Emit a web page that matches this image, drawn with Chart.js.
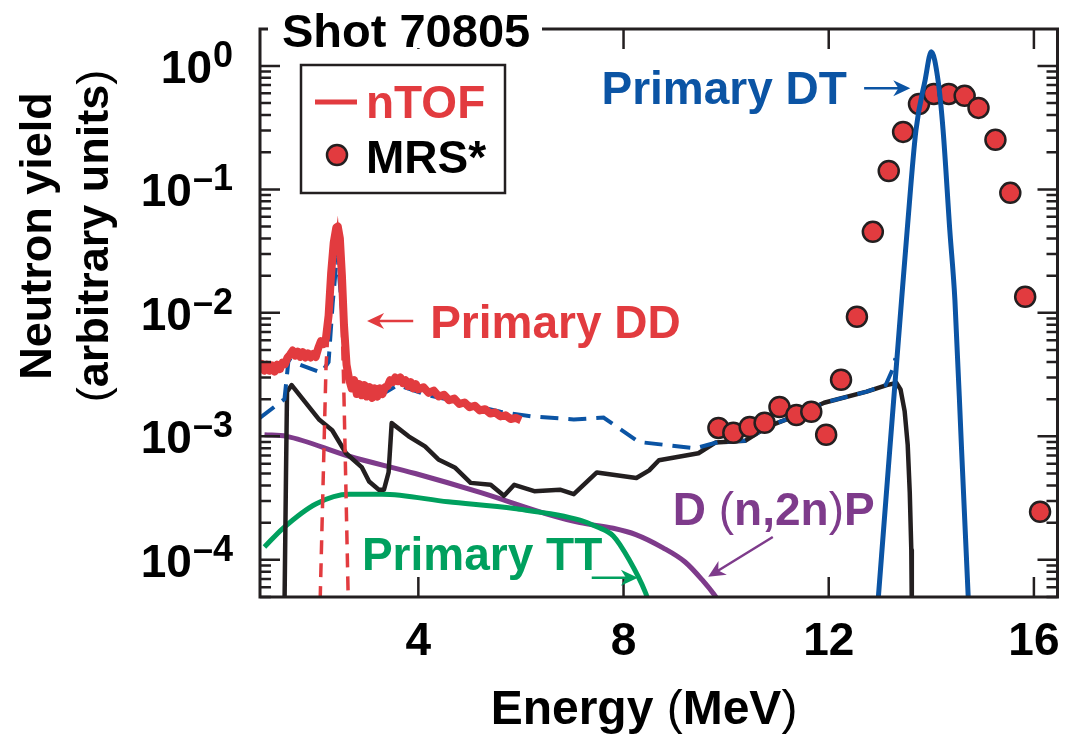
<!DOCTYPE html>
<html>
<head>
<meta charset="utf-8">
<title>Shot 70805 neutron spectrum</title>
<script src="https://cdn.jsdelivr.net/npm/chart.js@4.4.1/dist/chart.umd.min.js"></script>
<style>
  html, body { margin: 0; padding: 0; background: #fff; }
  #wrap { width: 1070px; height: 736px; }
</style>
</head>
<body>
<div id="wrap"><canvas id="spectrum" width="1070" height="736"></canvas></div>
<script>
// nTOF measurement (energy in MeV, yield in arbitrary units)
var ntofE = [0.90,0.95,1.00,1.05,1.10,1.15,1.20,1.25,1.30,1.35,
             1.40,1.45,1.50,1.55,1.60,1.65,1.70,1.75,1.80,1.85,
             1.90,1.95,2.00,2.05,2.10,2.15,2.20,2.25,2.30,2.35,2.40,
             2.43,2.47,2.51,2.55,
             2.60,2.65,2.70,2.75,2.80,2.85,2.90,2.95,3.00,3.05,
             3.10,3.15,3.20,3.25,3.30,3.35,3.40,3.45,3.50,3.55,
             3.60,3.65,3.70,3.75,3.80,3.85,3.90,3.95,4.00,
             4.10,4.20,4.30,4.40,4.50,4.60,4.70,4.80,4.90,5.00,
             5.10,5.20,5.30,5.40,5.50,5.60,5.70,5.80,5.90,6.00];
var ntofY = [3.6e-3,3.85e-3,3.4e-3,3.8e-3,3.4e-3,3.75e-3,3.35e-3,3.8e-3,3.5e-3,3.95e-3,
             3.85e-3,4.35e-3,4.6e-3,4.95e-3,4.5e-3,4.85e-3,4.4e-3,4.8e-3,4.35e-3,4.7e-3,
             4.35e-3,4.65e-3,4.4e-3,5.2e-3,5.9e-3,5.6e-3,6.3e-3,9.5e-3,0.021,0.037,0.049,
             0.050,0.040,0.020,8.0e-3,
             3.8e-3,2.9e-3,2.45e-3,2.85e-3,2.2e-3,2.65e-3,2.15e-3,2.6e-3,2.1e-3,2.5e-3,
             2.05e-3,2.45e-3,2.1e-3,2.45e-3,2.2e-3,2.5e-3,2.55e-3,2.85e-3,2.75e-3,3.0e-3,
             2.8e-3,3.0e-3,2.7e-3,2.85e-3,2.55e-3,2.75e-3,2.45e-3,2.65e-3,2.4e-3,
             2.5e-3,2.25e-3,2.35e-3,2.1e-3,2.17e-3,1.96e-3,2.02e-3,1.83e-3,1.88e-3,1.72e-3,
             1.77e-3,1.62e-3,1.66e-3,1.53e-3,1.56e-3,1.45e-3,1.48e-3,1.38e-3,1.41e-3,1.35e-3];

// primary DD peak (dashed red)
var ddE = [2.06, 2.09, 2.20, 2.30, 2.42, 2.50, 2.55, 2.63, 2.66];
var ddY = [2e-5, 5.5e-5, 3.7e-3, 0.02, 0.045, 0.015, 2.1e-3, 5.5e-5, 2e-5];

// total model (dashed blue)
var totE = [0.91, 1.39, 1.47, 1.55, 2.11, 2.25, 2.33, 2.42, 2.50, 2.60,
            2.80, 3.30, 3.60, 4.20, 4.83, 5.60, 6.20, 7.03, 7.61, 8.30,
            9.40, 9.85, 10.37, 10.81, 11.33, 11.91, 12.74, 13.11, 13.26, 13.30];
var totY = [1.41e-3, 2.0e-3, 4.2e-3, 4.0e-3, 3.27e-3, 4.0e-3, 0.012, 0.031, 0.012, 3.5e-3,
            2.4e-3, 2.2e-3, 2.6e-3, 2.15e-3, 1.88e-3, 1.58e-3, 1.45e-3, 1.37e-3, 1.42e-3, 9.0e-4,
            8.0e-4, 9.0e-4, 9.2e-4, 1.2e-3, 1.45e-3, 1.87e-3, 2.3e-3, 2.6e-3, 3.6e-3, 4.3e-3];

// scattered component (black)
var scatE = [1.39, 1.42, 1.44, 1.53, 2.07, 2.32, 2.59, 2.90, 3.04, 3.23,
             3.33, 3.42, 3.48, 3.81, 4.13, 4.39, 4.71, 5.02, 5.41, 5.67,
             5.87, 6.26, 6.76, 7.03, 7.48, 8.25, 8.50, 8.69, 9.46, 9.79,
             10.37, 10.81, 11.33, 11.91, 12.74, 13.13, 13.32, 13.40, 13.48, 13.54, 13.58, 13.61, 13.62];
var scatY = [4e-5, 5e-4, 2.3e-3, 2.6e-3, 1.36e-3, 1.12e-3, 7.3e-4, 5.6e-4, 4.3e-4, 3.7e-4,
             3.7e-4, 5.1e-4, 1.28e-3, 1.0e-3, 8.3e-4, 6.5e-4, 5.6e-4, 4.2e-4, 4.05e-4, 3.3e-4,
             4.05e-4, 3.6e-4, 3.7e-4, 3.4e-4, 5.1e-4, 4.6e-4, 5.3e-4, 6.4e-4, 7.3e-4, 8.9e-4,
             9.2e-4, 1.2e-3, 1.45e-3, 1.87e-3, 2.3e-3, 2.6e-3, 2.71e-3, 2.4e-3, 1.6e-3, 8.5e-4, 3.5e-4, 1.2e-4, 4e-5];

// primary TT (green)
var ttE = [1.00, 1.36, 2.01, 2.65, 3.29, 4.58, 5.87, 7.15, 7.48, 7.80, 8.11, 8.43, 8.52];
var ttY = [1.27e-4, 1.8e-4, 2.85e-4, 3.4e-4, 3.4e-4, 2.95e-4, 2.6e-4, 2.1e-4, 1.85e-4, 1.56e-4, 1.0e-4, 5.4e-5, 4.2e-5];

// D(n,2n)p breakup (purple)
var dnE = [1.00, 1.43, 2.65, 3.94, 5.22, 6.51, 7.15, 7.80, 8.24, 8.77, 9.20, 9.53, 9.80, 9.90];
var dnY = [1.03e-3, 1.0e-3, 6.9e-4, 5.0e-4, 3.5e-4, 2.35e-4, 2.0e-4, 1.8e-4, 1.6e-4, 1.25e-4, 9.6e-5, 6.9e-5, 5.0e-5, 4.3e-5];

// primary DT (blue)
var dtE = [12.95, 13.19, 13.42, 13.53, 13.70, 13.88, 14.00, 14.13, 14.23, 14.36, 14.46, 14.59, 14.73];
var dtY = [4e-5, 7.8e-4, 0.0127, 0.047, 0.30, 0.77, 1.30, 0.77, 0.30, 0.047, 0.0127, 7.8e-4, 4e-5];

// MRS* points
var mrsE = [9.85, 10.14, 10.46, 10.75, 11.04, 11.37, 11.66, 11.95, 12.24, 12.55, 12.86,
            13.17, 13.45, 13.76, 14.05, 14.34, 14.65, 14.92, 15.25, 15.54, 15.83, 16.12];
var mrsY = [1.17e-3, 1.07e-3, 1.19e-3, 1.29e-3, 1.73e-3, 1.49e-3, 1.58e-3, 1.03e-3, 2.87e-3, 9.3e-3, 0.0453,
            0.141, 0.292, 0.492, 0.593, 0.593, 0.572, 0.457, 0.252, 0.0937, 0.0135, 2.45e-4];

var xTicks = [4, 8, 12, 16];
var yDecades = [0, -1, -2, -3, -4];

var RED = '#e23b3f', BLUE = '#0b54a4', INK = '#231f20', PURPLE = '#7e3b8b', GREEN = '#00a05e';
var FONT = "'Liberation Sans', Arial, Helvetica, sans-serif";

function pts(xs, ys) {
    return xs.map(function (x, i) { return { x: x, y: ys[i] }; });
}

function drawRuns(ctx, parts, x, y) {
    parts.forEach(function (p) {
        ctx.font = p[1];
        ctx.fillText(p[0], x, y);
        x += ctx.measureText(p[0]).width;
    });
}

function runsWidth(ctx, parts) {
    var w = 0;
    parts.forEach(function (p) { ctx.font = p[1]; w += ctx.measureText(p[0]).width; });
    return w;
}

function arrow(ctx, x1, y1, x2, y2, color) {
    var ang = Math.atan2(y2 - y1, x2 - x1), len = 17, half = 8;
    ctx.strokeStyle = color; ctx.fillStyle = color; ctx.lineWidth = 2.5;
    ctx.beginPath();
    ctx.moveTo(x1, y1);
    ctx.lineTo(x2 - Math.cos(ang) * 10, y2 - Math.sin(ang) * 10);
    ctx.stroke();
    ctx.save();
    ctx.translate(x2, y2); ctx.rotate(ang);
    ctx.beginPath();
    ctx.moveTo(0, 0);
    ctx.lineTo(-len, -half);
    ctx.lineTo(-len * 0.7, 0);
    ctx.lineTo(-len, half);
    ctx.closePath();
    ctx.fill();
    ctx.restore();
}

var decor = {
    id: 'decor',
    afterDraw: function (chart) {
        var ctx = chart.ctx, a = chart.chartArea, xs = chart.scales.x, ys = chart.scales.y;
        var B = 'bold ', F46 = '46px ' + FONT;
        ctx.save();

        // frame
        ctx.strokeStyle = INK; ctx.lineWidth = 3;
        ctx.strokeRect(a.left, a.top, a.right - a.left, a.bottom - a.top);

        // x ticks, top and bottom, pointing in
        ctx.lineWidth = 2.5;
        xTicks.forEach(function (v) {
            var px = xs.getPixelForValue(v);
            ctx.beginPath();
            ctx.moveTo(px, a.bottom); ctx.lineTo(px, a.bottom - 20);
            ctx.moveTo(px, a.top); ctx.lineTo(px, a.top + 20);
            ctx.stroke();
        });

        // log ticks on both sides
        for (var e = -5; e <= 0; e++) {
            for (var m = 1; m <= 9; m++) {
                var v = m * Math.pow(10, e);
                if (v < ys.min || v > ys.max) continue;
                var py = ys.getPixelForValue(v), len = m === 1 ? 20 : 11;
                ctx.beginPath();
                ctx.moveTo(a.left, py); ctx.lineTo(a.left + len, py);
                ctx.moveTo(a.right, py); ctx.lineTo(a.right - len, py);
                ctx.stroke();
            }
        }

        // y tick labels 10^n
        ctx.fillStyle = '#000';
        ctx.textAlign = 'left'; ctx.textBaseline = 'alphabetic';
        yDecades.forEach(function (d) {
            var py = ys.getPixelForValue(Math.pow(10, d));
            var sup = d === 0 ? '0' : '\u2013' + (-d);
            ctx.font = B + '36px ' + FONT;
            var ws = ctx.measureText(sup).width;
            ctx.font = B + F46;
            var wb = ctx.measureText('10').width;
            var right = 233;
            ctx.fillText('10', right - ws - wb - 1, py + 17);
            ctx.font = B + '36px ' + FONT;
            ctx.fillText(sup, right - ws, py + 1);
        });

        // x tick labels
        ctx.textAlign = 'center';
        ctx.font = B + F46;
        xTicks.forEach(function (v) {
            ctx.fillText(String(v), xs.getPixelForValue(v), a.bottom + 58);
        });

        // axis titles
        ctx.textAlign = 'left';
        var xt = [['Energy ', B + '48px ' + FONT], ['(', '48px ' + FONT], ['MeV', B + '48px ' + FONT], [')', '48px ' + FONT]];
        drawRuns(ctx, xt, 644 - runsWidth(ctx, xt) / 2, 724);

        ctx.save();
        ctx.translate(0, 236);
        ctx.rotate(-Math.PI / 2);
        ctx.textBaseline = 'middle';
        var y1 = [['Neutron yield', B + '45px ' + FONT]];
        drawRuns(ctx, y1, -runsWidth(ctx, y1) / 2, 39);
        var y2 = [['(', '45px ' + FONT], ['arbitrary units', B + '45px ' + FONT], [')', '45px ' + FONT]];
        drawRuns(ctx, y2, -runsWidth(ctx, y2) / 2, 96);
        ctx.restore();

        // shot title breaking the top border
        ctx.fillStyle = '#fff';
        ctx.fillRect(268, 8, 274, 40);
        ctx.fillStyle = '#000';
        ctx.font = B + '47px ' + FONT;
        ctx.textBaseline = 'alphabetic';
        ctx.fillText('Shot 70805', 282, 47);

        // legend box
        ctx.font = B + F46;
        ctx.fillStyle = '#fff';
        ctx.fillRect(301, 65, 204, 128);
        ctx.strokeStyle = INK; ctx.lineWidth = 2.5;
        ctx.strokeRect(301, 65, 204, 128);
        ctx.strokeStyle = RED; ctx.lineWidth = 5;
        ctx.beginPath(); ctx.moveTo(315, 102); ctx.lineTo(357, 102); ctx.stroke();
        ctx.fillStyle = RED;
        ctx.fillText('nTOF', 366, 118);
        ctx.beginPath(); ctx.arc(337, 155, 10, 0, Math.PI * 2);
        ctx.fill(); ctx.strokeStyle = INK; ctx.lineWidth = 2.5; ctx.stroke();
        ctx.fillStyle = '#000';
        ctx.fillText('MRS*', 366, 173);

        // curve annotations
        var P = function (E, v) { return [xs.getPixelForValue(E), ys.getPixelForValue(v)]; };
        var t;

        ctx.fillStyle = BLUE;
        t = P(7.57, 0.49);
        ctx.fillText('Primary DT', t[0], t[1]);
        var p1 = P(12.69, 0.66), p2 = P(13.59, 0.66);
        arrow(ctx, p1[0], p1[1], p2[0], p2[1], BLUE);

        ctx.fillStyle = RED;
        t = P(4.23, 6.3e-3);
        ctx.fillText('Primary DD', t[0], t[1]);
        p1 = P(3.90, 8.6e-3); p2 = P(3.00, 8.6e-3);
        arrow(ctx, p1[0], p1[1], p2[0], p2[1], RED);

        ctx.fillStyle = GREEN;
        t = P(2.90, 8.3e-5);
        ctx.fillText('Primary TT', t[0], t[1]);
        p1 = P(7.38, 7.15e-5); p2 = P(8.28, 7.15e-5);
        arrow(ctx, p1[0], p1[1], p2[0], p2[1], GREEN);

        ctx.fillStyle = PURPLE;
        t = P(8.96, 1.92e-4);
        drawRuns(ctx, [['D ', B + F46], ['(', F46], ['n,2n', B + F46], [')', F46], ['P', B + F46]], t[0], t[1]);
        p1 = P(10.91, 1.53e-4); p2 = P(9.65, 7.3e-5);
        arrow(ctx, p1[0], p1[1], p2[0], p2[1], PURPLE);

        ctx.restore();
    }
};

new Chart(document.getElementById('spectrum'), {
    type: 'line',
    data: {
        datasets: [
            { data: pts(dtE, dtY), borderColor: BLUE, borderWidth: 5, cubicInterpolationMode: 'monotone', pointRadius: 0, order: 0 },
            { data: pts(mrsE, mrsY), showLine: false, pointRadius: 10, pointHoverRadius: 10,
              pointBackgroundColor: RED, pointBorderColor: INK, pointBorderWidth: 2.5, order: 1 },
            { data: pts(ntofE, ntofY), borderColor: RED, borderWidth: 8, borderJoinStyle: 'round', tension: 0, pointRadius: 0, order: 2 },
            { data: pts(ddE, ddY), borderColor: RED, borderWidth: 3.5, borderDash: [14, 9], tension: 0, pointRadius: 0, order: 3 },
            { data: pts(totE, totY), borderColor: BLUE, borderWidth: 4, borderDash: [18, 10], tension: 0, pointRadius: 0, order: 4 },
            { data: pts(scatE, scatY), borderColor: INK, borderWidth: 4.5, borderJoinStyle: 'round', tension: 0, pointRadius: 0, order: 5 },
            { data: pts(ttE, ttY), borderColor: GREEN, borderWidth: 5, cubicInterpolationMode: 'monotone', pointRadius: 0, order: 6 },
            { data: pts(dnE, dnY), borderColor: PURPLE, borderWidth: 5, cubicInterpolationMode: 'monotone', pointRadius: 0, order: 7 }
        ]
    },
    options: {
        responsive: false,
        animation: false,
        devicePixelRatio: 1,
        layout: { padding: { left: 260, right: 4, top: 29, bottom: 139 } },
        plugins: { legend: { display: false }, tooltip: { enabled: false } },
        scales: {
            x: { type: 'linear', min: 0.913, max: 16.46, display: false },
            y: { type: 'logarithmic', min: 5.0e-5, max: 1.99, display: false }
        }
    },
    plugins: [decor]
});
</script>
</body>
</html>
